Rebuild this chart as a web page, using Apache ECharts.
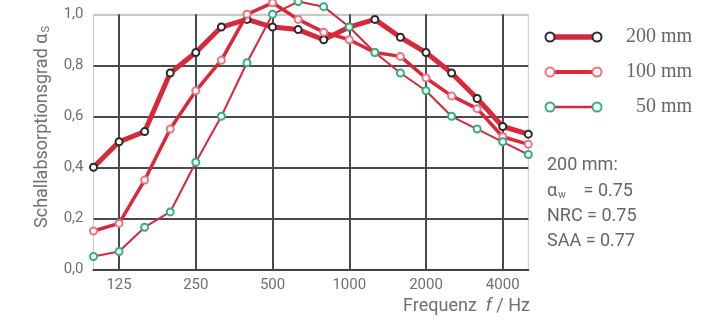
<!DOCTYPE html>
<html>
<head>
<meta charset="utf-8">
<script src="https://cdn.jsdelivr.net/npm/echarts@6/dist/echarts.min.js"></script>
<style>
  html, body { margin: 0; padding: 0; background: #fff; }
  #main { width: 722px; height: 321px; }
</style>
</head>
<body>
<div id="main"></div>
<script>
// third-octave bands, 100 Hz .. 5000 Hz
var freqs = ['100', '125', '160', '200', '250', '315', '400', '500', '630', '800',
    '1000', '1250', '1600', '2000', '2500', '3150', '4000', '5000'];
var labelled = ['125', '250', '500', '1000', '2000', '4000'];

var mm200 = [0.40, 0.50, 0.54, 0.77, 0.85, 0.95, 0.98, 0.95, 0.94, 0.90,
    0.95, 0.98, 0.91, 0.85, 0.77, 0.67, 0.56, 0.53];
var mm100 = [0.15, 0.18, 0.35, 0.55, 0.70, 0.82, 1.00, 1.045, 0.98, 0.93,
    0.90, 0.85, 0.835, 0.75, 0.68, 0.63, 0.52, 0.49];
var mm50 = [0.05, 0.07, 0.165, 0.225, 0.42, 0.60, 0.81, 1.00, 1.05, 1.03,
    0.95, 0.85, 0.77, 0.70, 0.60, 0.55, 0.50, 0.45];

var seriesNames = ['200 mm', '100 mm', '50 mm'];
var ratings = ['200 mm:', '{a|α}{s|w}{a|    = 0.75}', 'NRC = 0.75', 'SAA = 0.77'];

var red = '#d8283a';
var ringColors = ['#2a2a2a', '#ea7480', '#2fb27c'];
var widths = [5, 3.5, 2];
var values = [mm200, mm100, mm50];

var myChart = echarts.init(document.getElementById('main'));

function isLabelled(idx) {
    return labelled.indexOf(freqs[idx]) >= 0;
}

var series = [];
for (var i = 0; i < values.length; i++) {
    series.push({
        name: seriesNames[i],
        type: 'line',
        data: values[i],
        clip: false,
        symbol: 'circle',
        symbolSize: 7,
        showAllSymbol: true,
        lineStyle: { color: red, width: widths[i] },
        itemStyle: { color: '#fff', borderColor: ringColors[i], borderWidth: 2 },
        emphasis: { disabled: true },
        z: 3 + i
    });
}

// legend drawn as graphic: ring - line - ring, then the label
var graphics = [];
var legendY = [37, 72, 107];
for (var i = 0; i < seriesNames.length; i++) {
    var y = legendY[i];
    graphics.push({
        type: 'line', shape: { x1: 550, y1: y, x2: 597, y2: y },
        style: { stroke: red, lineWidth: widths[i] + 0.5 }
    });
    [550, 597].forEach(function (cx) {
        graphics.push({
            type: 'circle', shape: { cx: cx, cy: y, r: 4.5 },
            style: { fill: '#fff', stroke: ringColors[i], lineWidth: 2 }, z: 10
        });
    });
    graphics.push({
        type: 'text', x: 692, y: y,
        style: {
            text: seriesNames[i], align: 'right', verticalAlign: 'middle',
            fill: '#666', font: '20px "Liberation Serif"'
        }
    });
}

var ratingY = [165, 191, 216, 241];
for (var k = 0; k < ratings.length; k++) {
    graphics.push({
        type: 'text', x: 547, y: ratingY[k],
        style: {
            text: ratings[k], verticalAlign: 'middle',
            fill: '#666', font: '18px Roboto',
            rich: {
                a: { fontSize: 18, fontFamily: 'Roboto', fill: '#666' },
                s: { fontSize: 10, fontFamily: 'Roboto', fill: '#666', padding: [9, 0, 0, 1] }
            }
        }
    });
}

// axis names
graphics.push({
    type: 'text', x: 42, y: 127, rotation: Math.PI / 2,
    style: {
        text: 'Schallabsorptionsgrad {a|α}{s|S}', align: 'center', verticalAlign: 'middle',
        fill: '#707070', font: '18px Roboto',
        rich: {
            a: { fontSize: 18, fontFamily: 'Roboto', fill: '#707070' },
            s: { fontSize: 11, fontFamily: 'Roboto', fill: '#707070', padding: [8, 0, 0, 1] }
        }
    }
});
graphics.push({
    type: 'text', x: 530, y: 306,
    style: {
        text: 'Frequenz  {i|f} / Hz', align: 'right', verticalAlign: 'middle',
        fill: '#707070', font: '18px Roboto',
        rich: {
            i: { fontSize: 18, fontFamily: 'Roboto', fontStyle: 'italic', fill: '#707070' }
        }
    }
});

var option = {
    animation: false,
    backgroundColor: '#fff',
    grid: {
        left: 93.5, right: 193.7, top: 14.3, bottom: 51.7,
        show: true, borderColor: '#c8c8c8', borderWidth: 1
    },
    xAxis: {
        type: 'category',
        data: freqs,
        boundaryGap: false,
        axisLine: { lineStyle: { color: '#444', width: 2 } },
        axisTick: { show: false },
        axisLabel: {
            interval: function (idx) { return isLabelled(idx); },
            color: '#707070', fontSize: 15, fontFamily: 'Roboto', margin: 8
        },
        splitLine: {
            show: true,
            interval: function (idx) { return isLabelled(idx); },
            lineStyle: { color: '#4a4a4a', width: 2 }
        }
    },
    yAxis: {
        type: 'value',
        min: 0, max: 1, interval: 0.2,
        axisLine: { show: false },
        axisTick: { show: false },
        axisLabel: {
            color: '#707070', fontSize: 15, fontFamily: 'Roboto', margin: 10,
            formatter: function (v) { return v.toFixed(1).replace('.', ','); }
        },
        splitLine: {
            lineStyle: {
                color: ['#444', '#4a4a4a', '#4a4a4a', '#4a4a4a', '#4a4a4a', '#c8c8c8'],
                width: 2
            }
        }
    },
    graphic: graphics,
    series: series
};

myChart.setOption(option);
</script>
</body>
</html>
